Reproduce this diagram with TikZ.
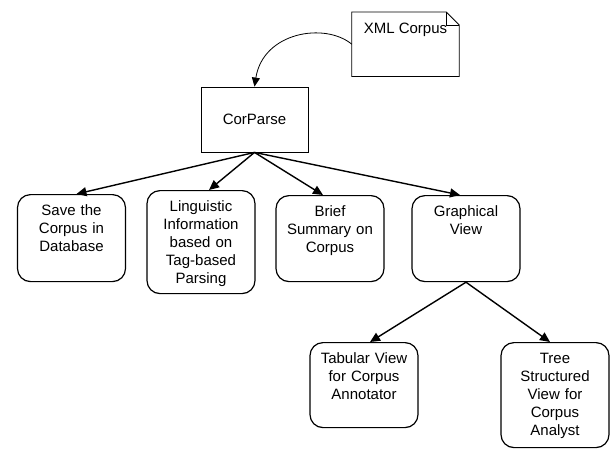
\documentclass[tikz,border=0pt]{standalone}
\usepackage{fontspec}
\setmainfont{Liberation Sans}
\usetikzlibrary{arrows.meta}
\tikzset{
	rbox/.style={draw,line width=1.2pt,rounded corners=13pt,align=center,
		text width=100pt,inner xsep=4pt,inner ysep=9.5pt,text height=11pt,
		text depth=#1,anchor=north},
	link/.style={-{Triangle[length=10pt,width=9pt]},line width=1.4pt}
}
\begin{document}
\begin{tikzpicture}[x=1pt,y=-1pt,font=\fontsize{15}{18}\selectfont]
			\useasboundingbox (0,0) rectangle (611,448);
			% input document and parser
			\node[text height=11pt,text depth=33pt,minimum width=107pt,inner ysep=10pt,anchor=north] (xml) at (405.5,12) {XML Corpus};
			\draw[line width=0.8pt] (xml.north west) -- ([xshift=-13pt]xml.north east) -- ([yshift=-13pt]xml.north east) -- (xml.south east) -- (xml.south west) -- cycle;
			\draw[line width=0.8pt] ([xshift=-13pt]xml.north east) |- ([yshift=-13pt]xml.north east);
			\node[draw,line width=0.8pt,minimum width=107pt,minimum height=65pt] (corparse) at (254.5,119.5) {CorParse};
			% outputs
			\node[rbox=57pt] (save) at (71.5,194) {Save the\\Corpus in\\Database};
			\node[rbox=73pt] (ling) at (201,190) {Linguistic\\Information\\based on\\Tag-based\\Parsing};
			\node[rbox=56pt] (brief) at (330,195) {Brief\\Summary on\\Corpus};
			\node[rbox=56pt] (graph) at (466,195) {Graphical\\View};
			\node[rbox=55pt] (tab) at (364,342) {Tabular View\\for Corpus\\Annotator};
			\node[rbox=75pt] (tree) at (555,342) {Tree\\Structured\\View for\\Corpus\\Analyst};
			% connectors
			\draw[-{Triangle[length=9pt,width=8pt]},line width=0.8pt] (xml.west) .. controls (325,22) and (263,32) .. (corparse.north);
			\draw[link] (corparse.south) -- ([xshift=5pt]save.north);
			\draw[link] (corparse.south) -- ([xshift=8pt]ling.north);
			\draw[link] (corparse.south) -- ([xshift=-7pt]brief.north);
			\draw[link] (corparse.south) -- ([xshift=-6pt]graph.north);
			\draw[link] (graph.south) -- ([xshift=6pt]tab.north);
			\draw[link] (graph.south) -- ([xshift=-5pt]tree.north);
		\end{tikzpicture}
\end{document}
